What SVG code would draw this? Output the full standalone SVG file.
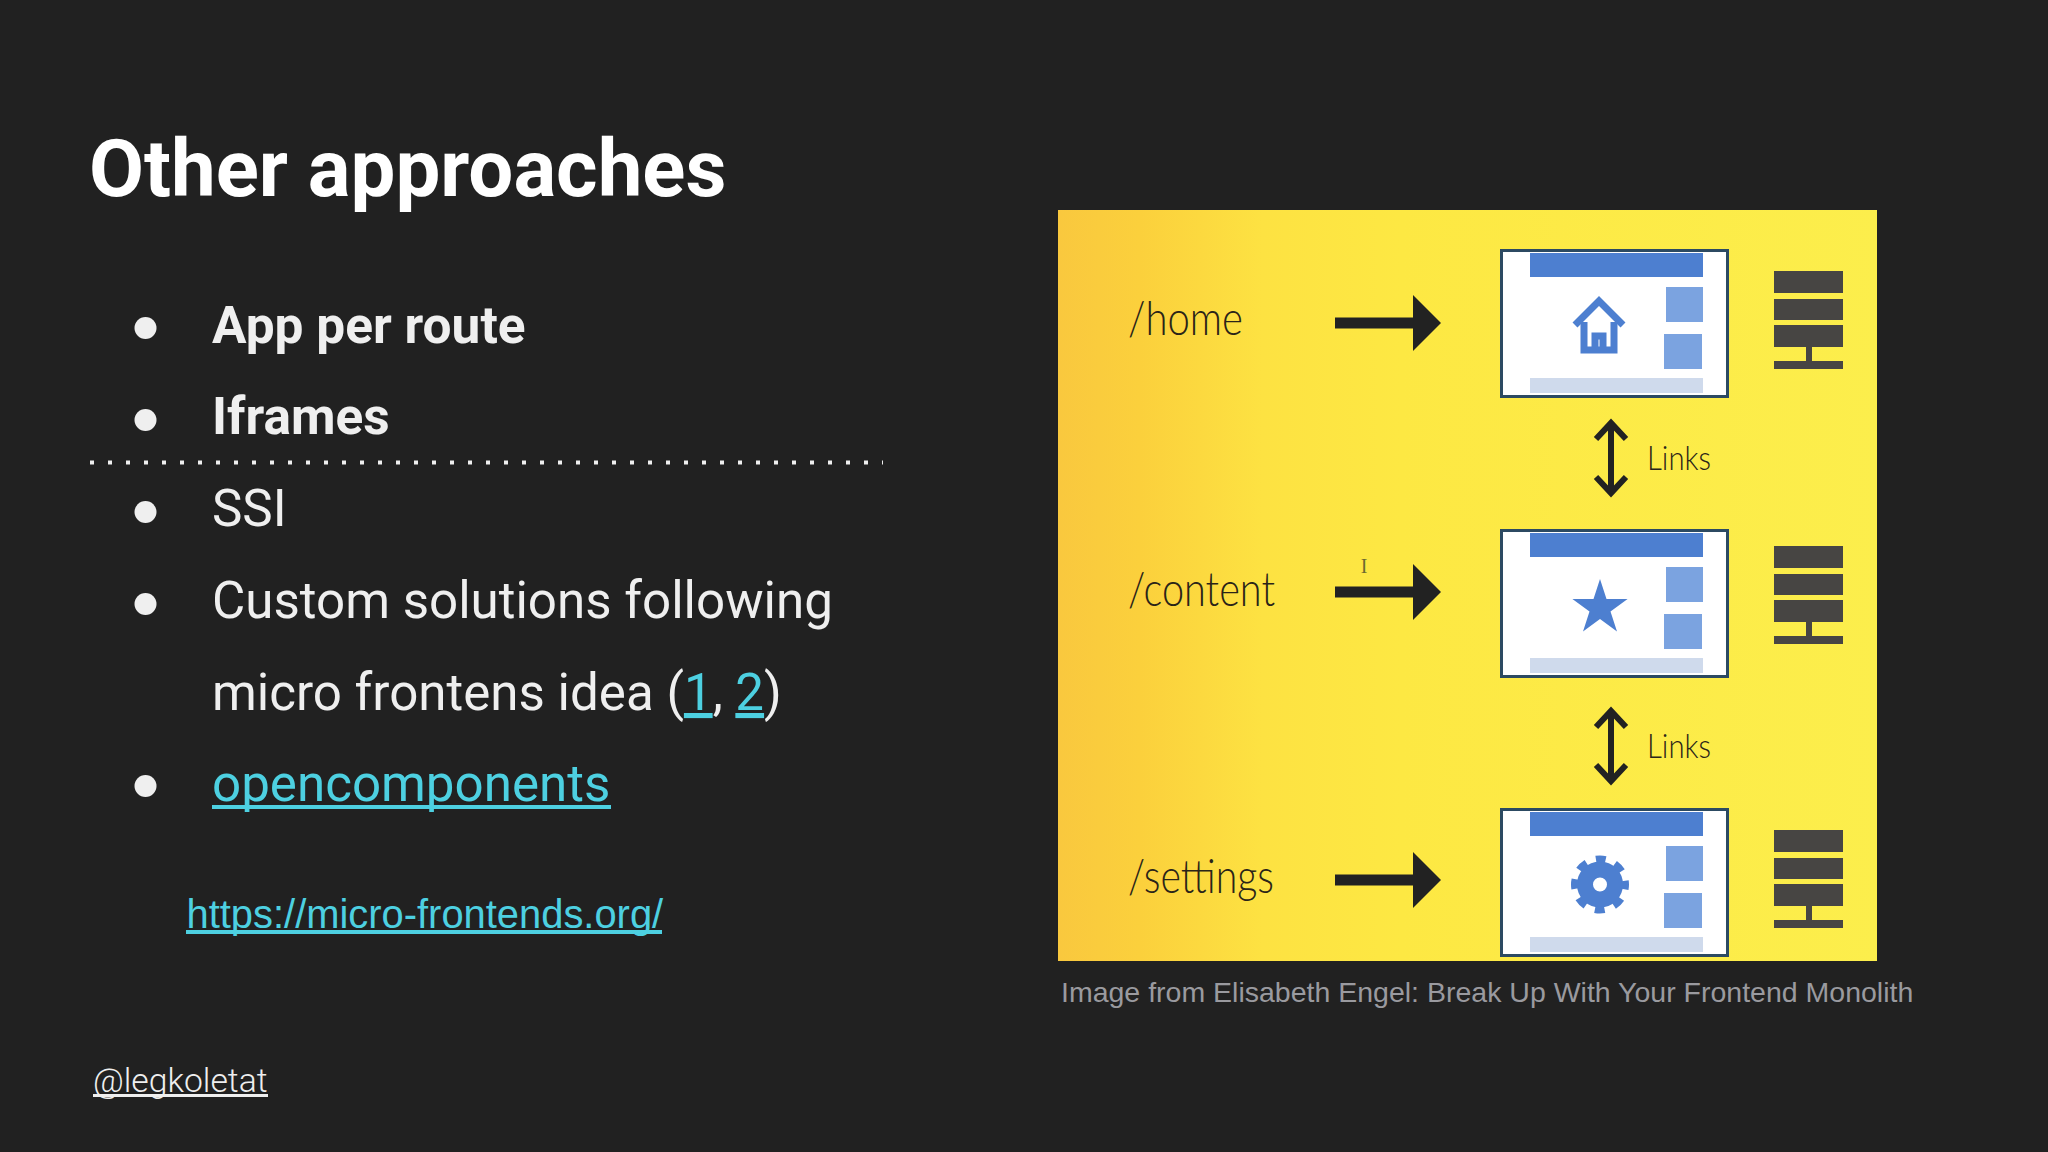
<svg xmlns="http://www.w3.org/2000/svg" xmlns:xlink="http://www.w3.org/1999/xlink" width="2048" height="1152" viewBox="0 0 2048 1152">
<defs>
<linearGradient id="bg" x1="0" y1="0" x2="1" y2="0">
<stop offset="0" stop-color="#f9c83e"/><stop offset="0.1" stop-color="#fbd03c"/><stop offset="0.25" stop-color="#fde242"/><stop offset="0.42" stop-color="#fde843"/><stop offset="1" stop-color="#fcee4c"/>
</linearGradient>
<g id="win">
<rect x="1501.500" y="1.500" width="226" height="146" fill="#fff" stroke="#2c4a62" stroke-width="3"/>
<rect x="1530" y="4" width="173" height="24" fill="#4d7fd0"/>
<rect x="1666" y="38" width="37" height="35" fill="#7ba3e0"/>
<rect x="1664" y="85" width="38" height="35" fill="#7ba3e0"/>
<rect x="1530" y="129" width="173" height="15" fill="#cfdaec"/>
</g>
<g id="srv" fill="#474543">
<rect x="1774" y="0" width="69" height="22"/><rect x="1774" y="28" width="69" height="21"/><rect x="1774" y="54" width="69" height="22"/><rect x="1806" y="76" width="6" height="14"/><rect x="1774" y="90" width="69" height="8"/>
</g>
<path id="arr" d="M1335 -5.500H1413V-28L1441 0L1413 28V5.500H1335Z" fill="#222"/>
<path id="dbl" d="M1611 5V73M1596 20L1611 4L1626 20M1596 58L1611 74L1626 58" fill="none" stroke="#222" stroke-width="6"/>
</defs>
<style>
text{font-family:Roboto,"Liberation Sans",sans-serif}
.body{font-size:51.100px;font-weight:400;fill:#efefef}
.bold{font-size:51.400px;font-weight:700;fill:#efefef}
.lnk{fill:#4dd0e1}
.u{text-decoration:underline;text-decoration-thickness:4px}
.bul{fill:#efefef}
.hand{font-family:Lato,"Liberation Sans",sans-serif;font-weight:300;fill:#2a2418}
.cy{stroke:#4dd0e1;stroke-width:4}
</style>
<rect width="2048" height="1152" fill="#212121"/>
<text id="title" x="89" y="196" font-size="79.800" font-weight="700" fill="#fff">Other approaches</text>
<g id="bullets" class="bul">
<ellipse cx="145.500" cy="328" rx="11" ry="11"/><ellipse cx="145.500" cy="420" rx="11" ry="11"/><ellipse cx="145.500" cy="512" rx="11" ry="11"/><ellipse cx="145.500" cy="604" rx="11" ry="11"/><ellipse cx="145.500" cy="786" rx="11" ry="11"/>
</g>
<text class="bold" x="212" y="343">App per route</text>
<text class="bold" x="212" y="434">Iframes</text>
<line id="divider" x1="90" y1="462.500" x2="883" y2="462.500" stroke="#efefef" stroke-width="4" stroke-dasharray="4 14"/>
<text class="body" x="212" y="526">SSI</text>
<text class="body" x="212" y="618">Custom solutions following</text>
<text class="body" x="212" y="710">micro frontens idea (<tspan class="lnk u">1</tspan>, <tspan class="lnk u">2</tspan>)</text>
<text class="body lnk" x="212" y="801">opencomponents</text>
<line class="cy" x1="212" y1="807" x2="611" y2="807"/>
<text x="186.500" y="928" font-size="39.900" fill="#4dd0e1" style="font-family:'Liberation Sans',sans-serif">https://micro-frontends.org/</text>
<line class="cy" x1="186" y1="932" x2="662" y2="932"/>
<text x="93" y="1092" font-size="33.700" font-weight="300" fill="#efefef">@legkoletat</text>
<line x1="93" y1="1095.500" x2="268" y2="1095.500" stroke="#efefef" stroke-width="3"/>

<rect id="picture" x="1058" y="210" width="819" height="751" fill="url(#bg)"/>
<g id="node-home">
<use xlink:href="#win" href="#win" y="249"/>
<path d="M1575 325L1599 301L1623 325" fill="none" stroke="#4d7fd0" stroke-width="7"/>
<path d="M1584 322V350H1614V322M1595 350V336H1603V350" fill="none" stroke="#4d7fd0" stroke-width="7"/>
<use href="#srv" y="271"/>
<text class="hand" x="1128" y="335" font-size="48" textLength="115" lengthAdjust="spacingAndGlyphs">/home</text>
</g>
<g id="node-content">
<use href="#win" y="529"/>
<polygon points="1600,579 1606.500,599 1627.600,599 1610.500,611.400 1617,631.500 1600,619 1583,631.500 1589.500,611.400 1572.400,599 1593.500,599" fill="#4d7fd0"/>
<use href="#srv" y="546"/>
<text class="hand" x="1128" y="606" font-size="48" textLength="147" lengthAdjust="spacingAndGlyphs">/content</text>
<text x="1364" y="573" font-size="20" text-anchor="middle" fill="#6d6a30" style="font-family:'Liberation Serif',serif">I</text>
</g>
<g id="node-settings">
<use href="#win" y="808"/>
<circle cx="1600" cy="884.500" r="15" fill="none" stroke="#4d7fd0" stroke-width="16"/>
<circle cx="1600" cy="884.500" r="25.500" fill="none" stroke="#4d7fd0" stroke-width="7" stroke-dasharray="10 10.030" stroke-dashoffset="5"/>
<use href="#srv" y="830"/>
<text class="hand" x="1128" y="893" font-size="48" textLength="146" lengthAdjust="spacingAndGlyphs">/settings</text>
</g>
<g id="connectors">
<use href="#arr" y="323"/><use href="#arr" y="592"/><use href="#arr" y="880"/>
<use href="#dbl" y="419"/><use href="#dbl" y="707"/>
</g>
<text class="hand" x="1647" y="470" font-size="33" textLength="64" lengthAdjust="spacingAndGlyphs">Links</text>
<text class="hand" x="1647" y="758" font-size="33" textLength="64" lengthAdjust="spacingAndGlyphs">Links</text>
<text id="caption" x="1061" y="1002" font-size="28.500" fill="#9a9a9f" style="font-family:'Liberation Sans',sans-serif">Image from Elisabeth Engel: Break Up With Your Frontend Monolith</text>
</svg>
